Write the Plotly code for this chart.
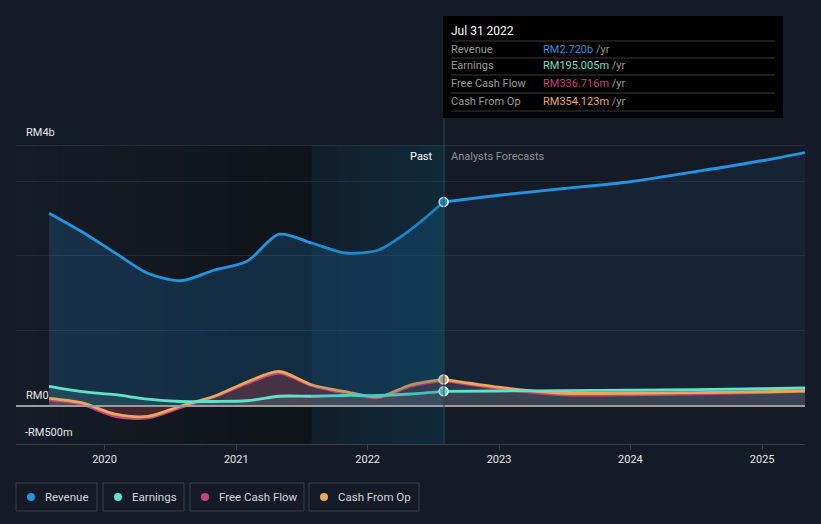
import plotly.graph_objects as go

# ---------------- data (values in RM billions) ----------------
past_dates = ["2019-07-31", "2019-10-31", "2020-01-31", "2020-04-30", "2020-07-31",
              "2020-10-31", "2021-01-31", "2021-04-30", "2021-07-31", "2021-10-31",
              "2022-01-31", "2022-04-30", "2022-07-31"]
revenue_past = [2.57, 2.32, 2.04, 1.77, 1.67, 1.81, 1.93, 2.29, 2.17, 2.04, 2.08, 2.35, 2.72]
earnings_past = [0.26, 0.19, 0.15, 0.09, 0.06, 0.06, 0.07, 0.13, 0.13, 0.14, 0.14, 0.16, 0.195]
fcf_past = [0.08, 0.02, -0.14, -0.16, -0.02, 0.12, 0.30, 0.44, 0.27, 0.17, 0.11, 0.26, 0.337]
cfo_past = [0.10, 0.04, -0.11, -0.14, 0.00, 0.13, 0.32, 0.46, 0.28, 0.19, 0.12, 0.28, 0.354]

fc_dates = ["2022-07-31", "2022-12-31", "2023-06-30", "2023-12-31", "2024-12-31", "2025-04-30"]
revenue_fc = [2.72, 2.81, 2.90, 2.99, 3.27, 3.38]
earnings_fc = [0.195, 0.20, 0.205, 0.21, 0.23, 0.24]
fcf_fc = [0.337, 0.23, 0.15, 0.15, 0.18, 0.20]
cfo_fc = [0.354, 0.25, 0.17, 0.17, 0.19, 0.20]

year_ticks = ["2020-01-01", "2021-01-01", "2022-01-01", "2023-01-01", "2024-01-01", "2025-01-01"]
year_labels = ["2020", "2021", "2022", "2023", "2024", "2025"]

series_names = ["Revenue", "Earnings", "Free Cash Flow", "Cash From Op"]
series_colors = ["#2394df", "#5fe3cc", "#c8417f", "#e9a95b"]
tip_values = ["RM2.720b", "RM195.005m", "RM336.716m", "RM354.123m"]
tip_date = "Jul 31 2022"
y_labels = ["RM4b", "RM0", "-RM500m"]

# ---------------- layout helpers (pixel -> paper) ----------------
W, H = 821, 524
L, R, T, B = 16, 805, 145, 444
def px(x):
    return (x - L) / (R - L)
def py(y):
    return (B - y) / (B - T)

BG = "#151b26"
FONT = "Roboto"

fig = go.Figure()

# fills
fig.add_trace(go.Scatter(x=past_dates, y=revenue_past, mode="lines", line=dict(width=0, shape="spline", smoothing=0.8),
                         fill="tozeroy", fillcolor="rgba(35,140,220,0.20)", hoverinfo="skip", showlegend=False))
fig.add_trace(go.Scatter(x=fc_dates, y=revenue_fc, mode="lines", line=dict(width=0, shape="spline", smoothing=0.6),
                         fill="tozeroy", fillcolor="rgba(35,140,220,0.08)", hoverinfo="skip", showlegend=False))
fig.add_trace(go.Scatter(x=past_dates, y=cfo_past, mode="lines", line=dict(width=0, shape="spline", smoothing=0.8),
                         fill="tozeroy", fillcolor="rgba(200,70,80,0.28)", hoverinfo="skip", showlegend=False))
fig.add_trace(go.Scatter(x=past_dates, y=earnings_past, mode="lines", line=dict(width=0, shape="spline", smoothing=0.8),
                         fill="tozeroy", fillcolor="rgba(110,200,190,0.15)", hoverinfo="skip", showlegend=False))
fig.add_trace(go.Scatter(x=fc_dates, y=cfo_fc, mode="lines", line=dict(width=0, shape="spline", smoothing=0.6),
                         fill="tozeroy", fillcolor="rgba(170,170,180,0.16)", hoverinfo="skip", showlegend=False))
fig.add_trace(go.Scatter(x=fc_dates, y=earnings_fc, mode="lines", line=dict(width=0, shape="spline", smoothing=0.6),
                         fill="tozeroy", fillcolor="rgba(170,170,180,0.10)", hoverinfo="skip", showlegend=False))

# lines
def line(xs, ys, color, sm=0.8):
    fig.add_trace(go.Scatter(x=xs, y=ys, mode="lines", line=dict(color=color, width=2.8, shape="spline", smoothing=sm),
                             hoverinfo="skip", showlegend=False))

line(past_dates, fcf_past, series_colors[2])
line(past_dates, cfo_past, series_colors[3])
line(past_dates, earnings_past, series_colors[1])
line(past_dates, revenue_past, series_colors[0])
line(fc_dates, fcf_fc, series_colors[2], 0.6)
line(fc_dates, cfo_fc, series_colors[3], 0.6)
line(fc_dates, earnings_fc, series_colors[1], 0.6)
line(fc_dates, revenue_fc, series_colors[0], 0.6)

# markers at the last reported date
fig.add_trace(go.Scatter(x=[past_dates[-1]] * 3, y=[revenue_past[-1], earnings_past[-1], cfo_past[-1]],
                         mode="markers",
                         marker=dict(size=9, color=[series_colors[0], series_colors[1], "#d8b078"],
                                     line=dict(color="#ffffff", width=1.5)),
                         hoverinfo="skip", showlegend=False))

shapes = []
# left region gradient (darker to the right)
n = 14
x_a, x_b = L, 311
for i in range(n):
    t = i / (n - 1)
    c = (int(22 + (15 - 22) * t), int(28 + (20 - 28) * t), int(38 + (27 - 38) * t))
    shapes.append(dict(type="rect", xref="paper", yref="paper", layer="below",
                       x0=px(x_a + (x_b - x_a) * i / n), x1=px(x_a + (x_b - x_a) * (i + 1) / n) + 0.001,
                       y0=0, y1=1, fillcolor="rgb(%d,%d,%d)" % c, line=dict(width=0)))
# highlight region (last twelve months) overlay
n2 = 10
h_a, h_b = 311, 444
for i in range(n2):
    t = i / (n2 - 1)
    a = 0.10 + 0.16 * t
    shapes.append(dict(type="rect", xref="paper", yref="paper", layer="above",
                       x0=px(h_a + (h_b - h_a) * i / n2), x1=px(h_a + (h_b - h_a) * (i + 1) / n2),
                       y0=0, y1=1, fillcolor="rgba(0,80,110,%.3f)" % a, line=dict(width=0)))
# top line
shapes.append(dict(type="line", xref="paper", yref="y", x0=0, x1=1, y0=3.48, y1=3.48,
                   line=dict(color="#3b414b", width=1), layer="below"))
# zero line
shapes.append(dict(type="line", xref="paper", yref="y", x0=0, x1=1, y0=0, y1=0,
                   line=dict(color="#9a9b9e", width=2), layer="above"))
# vertical "now" line
shapes.append(dict(type="line", xref="paper", yref="paper", x0=px(444), x1=px(444), y0=0, y1=py(16),
                   line=dict(color="#2b4656", width=1), layer="above"))
# tooltip box
shapes.append(dict(type="rect", xref="paper", yref="paper", x0=px(443), x1=px(783), y0=py(118), y1=py(16),
                   fillcolor="#000000", line=dict(width=0), layer="above"))
for yy in [41, 58, 75, 93, 111]:
    shapes.append(dict(type="line", xref="paper", yref="paper", x0=px(451), x1=px(775), y0=py(yy), y1=py(yy),
                       line=dict(color="#3a3a3a", width=1), layer="above"))
# legend boxes
boxes = [(16, 97), (103, 184), (190, 304), (309, 419)]
for (bx0, bx1), col in zip(boxes, series_colors):
    shapes.append(dict(type="rect", xref="paper", yref="paper", x0=px(bx0), x1=px(bx1), y0=py(511), y1=py(483),
                       fillcolor="rgba(0,0,0,0)", line=dict(color="#3b414b", width=1)))
    cx, cy = bx0 + 15, 497
    shapes.append(dict(type="circle", xref="paper", yref="paper", x0=px(cx - 4), x1=px(cx + 4),
                       y0=py(cy + 4), y1=py(cy - 4), fillcolor=col, line=dict(width=0)))

ann = []
def text(x, y, s, color="#e6e6e6", size=11, anchor="left"):
    ann.append(dict(xref="paper", yref="paper", x=px(x), y=py(y), text=s, showarrow=False,
                    xanchor=anchor, yanchor="middle", font=dict(family=FONT, size=size, color=color)))

# y labels
text(24, 132, y_labels[0])
text(24, 395, y_labels[1])
text(23, 432, y_labels[2])
# past / forecast
text(435, 156, "Past", "#ffffff", 11, "right")
text(449, 156, "Analysts Forecasts", "#8c9097", 11, "left")
# tooltip
text(449, 31, tip_date, "#ffffff", 12)
for i, (nm, v, col) in enumerate(zip(series_names, tip_values, series_colors)):
    yy = [49, 66, 84, 101][i]
    text(449, yy, nm, "#9a9a9a", 11)
    text(541, yy, "<span style='color:%s'>%s</span> /yr" % (col, v), "#9a9a9a", 11)
# legend text
for (bx0, bx1), nm in zip(boxes, series_names):
    text(bx0 + 27, 497, nm, "#d4d6da", 11.5)

fig.update_layout(
    width=W, height=H,
    margin=dict(l=L, r=W - R, t=T, b=H - B),
    paper_bgcolor=BG, plot_bgcolor=BG,
    showlegend=False,
    shapes=shapes, annotations=ann,
    font=dict(family=FONT),
    xaxis=dict(type="date", range=["2019-04-30", "2025-04-30"], tickvals=year_ticks, ticktext=year_labels,
               tickfont=dict(color="#e6e6e6", size=11, family=FONT), showgrid=False, zeroline=False,
               showline=True, linecolor="#3b414b", linewidth=1, ticks="outside", ticklen=5, tickcolor="#3b414b"),
    yaxis=dict(range=[-0.507, 3.48], tickvals=[1, 2, 3], showticklabels=False, showgrid=True,
               gridcolor="#222a35", gridwidth=1, zeroline=False, showline=False),
)

fig.write_html("out.html", config={"displayModeBar": False},
               post_script="document.body.style.margin='0';document.body.style.background='%s';" % BG)
